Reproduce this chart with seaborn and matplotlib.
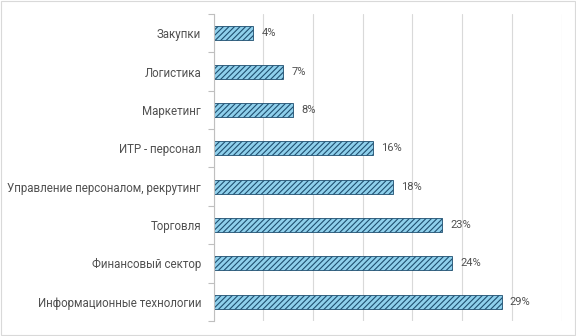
import matplotlib
matplotlib.use("Agg")
import matplotlib.pyplot as plt
import seaborn as sns
import pandas as pd

categories = [
    "Закупки",
    "Логистика",
    "Маркетинг",
    "ИТР - персонал",
    "Управление персоналом, рекрутинг",
    "Торговля",
    "Финансовый сектор",
    "Информационные технологии",
]
shares = [4, 7, 8, 16, 18, 23, 24, 29]

df = pd.DataFrame({"category": categories, "share": shares})

sns.set_theme(style="white")
plt.rcParams["font.family"] = ["Roboto", "DejaVu Sans"]
plt.rcParams["hatch.color"] = "#1f4f70"
plt.rcParams["hatch.linewidth"] = 0.8

fig = plt.figure(figsize=(5.76, 3.36), dpi=100)
ax = fig.add_axes([0.371, 0.045, 0.604, 0.913])

sns.barplot(data=df, x="share", y="category", ax=ax, color="#8fd0ec",
            width=0.37, saturation=1, edgecolor="#1f4f70", linewidth=0.6)
for p in ax.patches:
    p.set_hatch("//////")

for i, v in enumerate(shares):
    ax.text(v + 0.8, i, f"{v}%", va="center", ha="left", fontsize=8, color="#505050")

ax.set_xlim(0, 35)
ax.set_ylim(7.5, -0.5)
ax.set_xticks(range(0, 36, 5))
ax.set_xticklabels([])
ax.xaxis.grid(True, color="#d9d9d9", linewidth=0.8)
ax.set_axisbelow(True)
ax.set_xlabel("")
ax.set_ylabel("")
for s in ["top", "right", "bottom"]:
    ax.spines[s].set_visible(False)
ax.spines["left"].set_color("#bfbfbf")
ax.spines["left"].set_linewidth(0.8)

ax.set_yticks([i + 0.5 for i in range(-1, 8)], minor=True)
ax.tick_params(axis="y", which="minor", length=4, color="#bfbfbf", width=0.8, left=True)
ax.tick_params(axis="y", which="major", length=0, labelsize=8.3, labelcolor="#505050", pad=9)
ax.tick_params(axis="x", length=0)

fig.patches.append(plt.Rectangle((0.001, 0.002), 0.997, 0.995, transform=fig.transFigure,
                                 fill=False, edgecolor="#d9d9d9", linewidth=0.8))

fig.savefig("out.png", dpi=100)
